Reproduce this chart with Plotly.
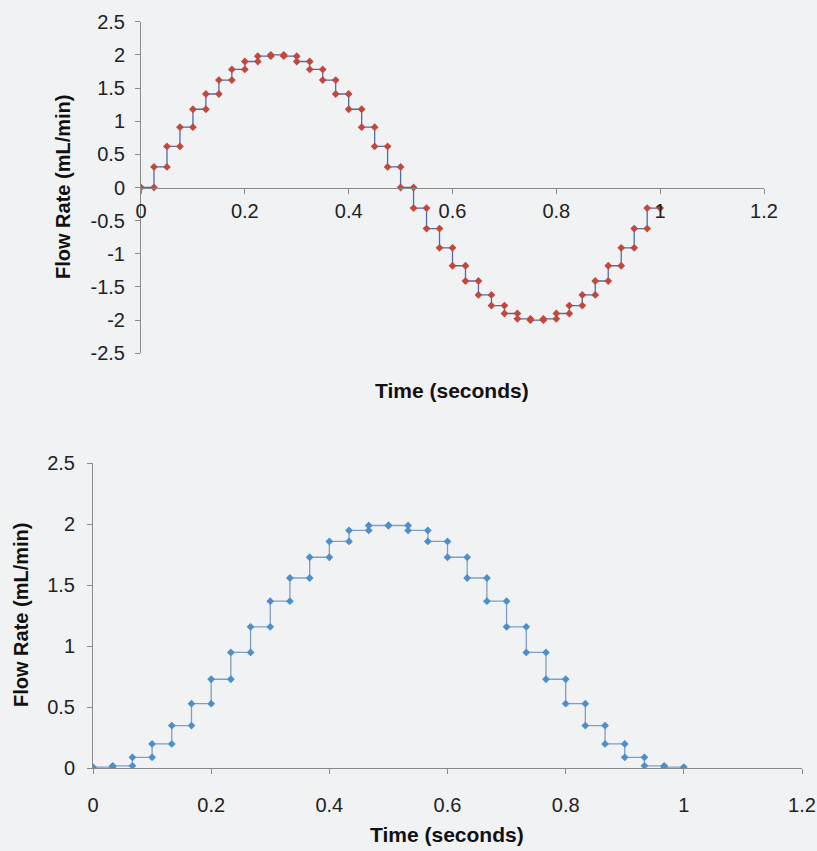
import plotly.graph_objects as go

# ---------------- data ----------------
# Top chart: step edges (s) and step values (mL/min)
top_edges = [0.0, 0.025, 0.05, 0.075, 0.1, 0.125, 0.15, 0.175, 0.2, 0.225,
             0.25, 0.275, 0.3, 0.325, 0.35, 0.375, 0.4, 0.425, 0.45, 0.475,
             0.5, 0.525, 0.55, 0.575, 0.6, 0.625, 0.65, 0.675, 0.7, 0.725,
             0.75, 0.775, 0.8, 0.825, 0.85, 0.875, 0.9, 0.925, 0.95, 0.975, 1.0]
top_values = [0.0, 0.31, 0.62, 0.91, 1.18, 1.41, 1.62, 1.78, 1.90, 1.98,
              2.00, 1.98, 1.90, 1.78, 1.62, 1.41, 1.18, 0.91, 0.62, 0.31,
              0.0, -0.31, -0.62, -0.91, -1.18, -1.41, -1.62, -1.78, -1.90, -1.98,
              -2.00, -1.98, -1.90, -1.78, -1.62, -1.41, -1.18, -0.91, -0.62, -0.31]

# Bottom chart
bot_edges = [0.0, 0.0333, 0.0667, 0.1, 0.1333, 0.1667, 0.2, 0.2333, 0.2667, 0.3,
             0.3333, 0.3667, 0.4, 0.4333, 0.4667, 0.5, 0.5333, 0.5667, 0.6, 0.6333,
             0.6667, 0.7, 0.7333, 0.7667, 0.8, 0.8333, 0.8667, 0.9, 0.9333, 0.9667, 1.0]
bot_values = [0.01, 0.02, 0.09, 0.20, 0.35, 0.53, 0.73, 0.95, 1.16, 1.37,
              1.56, 1.73, 1.86, 1.95, 1.99, 1.99, 1.95, 1.86, 1.73, 1.56,
              1.37, 1.16, 0.95, 0.73, 0.53, 0.35, 0.20, 0.09, 0.02, 0.01]

x_ticks = [0, 0.2, 0.4, 0.6, 0.8, 1.0, 1.2]
x_ticktext = ["0", "0.2", "0.4", "0.6", "0.8", "1", "1.2"]
top_y_ticks = [-2.5, -2, -1.5, -1, -0.5, 0, 0.5, 1, 1.5, 2, 2.5]
top_y_ticktext = ["-2.5", "-2", "-1.5", "-1", "-0.5", "0", "0.5", "1", "1.5", "2", "2.5"]
bot_y_ticks = [0, 0.5, 1, 1.5, 2, 2.5]
bot_y_ticktext = ["0", "0.5", "1", "1.5", "2", "2.5"]

x_title = "Time (seconds)"
y_title = "Flow Rate (mL/min)"


def steps(edges, values):
    xs, ys = [], []
    for k, v in enumerate(values):
        xs += [edges[k], edges[k + 1]]
        ys += [v, v]
    return xs, ys


tx, ty = steps(top_edges, top_values)
bx, by = steps(bot_edges, bot_values)

FONT = "Liberation Sans, Arial, sans-serif"
AX = "#8a8a8a"
BG = "#f1f2f4"
TICK_SIZE = 20

fig = go.Figure()
fig.add_trace(go.Scatter(
    x=tx, y=ty, mode="lines+markers", xaxis="x", yaxis="y",
    line=dict(color="#4f6aa8", width=1.3),
    marker=dict(symbol="diamond", size=6, color="#c4473c"),
    showlegend=False))
fig.add_trace(go.Scatter(
    x=bx, y=by, mode="lines+markers", xaxis="x2", yaxis="y2",
    line=dict(color="#7f9fc2", width=1.3),
    marker=dict(symbol="diamond", size=6, color="#4d8fcc"),
    showlegend=False))

W, H = 817, 851
# pixel geometry
t_left, t_right, t_top, t_bot = 141, 764, 21.7, 353.3
b_left, b_right, b_top, b_bot = 93, 802, 463.3, 768.3

top_ydom = [1 - t_bot / H, 1 - t_top / H]
bot_ydom = [1 - b_bot / H, 1 - b_top / H]


def xax(**kw):
    d = dict(range=[0, 1.2], tickvals=x_ticks, ticktext=x_ticktext,
             showline=True, linecolor=AX, linewidth=1, ticks="outside",
             ticklen=5, tickcolor=AX, showgrid=False, zeroline=False,
             automargin=False,
             tickfont=dict(family=FONT, size=TICK_SIZE, color="#222"))
    d.update(kw)
    return d


def yax(**kw):
    d = dict(showline=True, linecolor=AX, linewidth=1, ticks="outside",
             ticklen=5, tickcolor=AX, showgrid=False, zeroline=False,
             automargin=False,
             tickfont=dict(family=FONT, size=TICK_SIZE, color="#222"))
    d.update(kw)
    return d


fig.update_layout(
    width=W, height=H,
    margin=dict(l=0, r=0, t=0, b=0, autoexpand=False),
    paper_bgcolor=BG, plot_bgcolor=BG,
    xaxis=xax(domain=[t_left / W, t_right / W], anchor="free",
              position=(top_ydom[0] + top_ydom[1]) / 2, ticklabelstandoff=0),
    yaxis=yax(domain=top_ydom, anchor="x", range=[-2.5, 2.5],
              tickvals=top_y_ticks, ticktext=top_y_ticktext, ticklabelstandoff=6),
    xaxis2=xax(domain=[b_left / W, b_right / W], anchor="y2", ticklabelstandoff=14),
    yaxis2=yax(domain=bot_ydom, anchor="x2", range=[0, 2.5],
               tickvals=bot_y_ticks, ticktext=bot_y_ticktext, ticklabelstandoff=8),
)

x_title_font = dict(family=FONT, size=21, color="#111")
y_title_font = dict(family=FONT, size=20, color="#111")
annos = [
    dict(text="<b>%s</b>" % x_title, x=452 / W, y=1 - 390 / H, font=x_title_font),
    dict(text="<b>%s</b>" % x_title, x=447 / W, y=1 - 834 / H, font=x_title_font),
    dict(text="<b>%s</b>" % y_title, x=63 / W, y=1 - 187 / H, textangle=-90,
         font=y_title_font),
    dict(text="<b>%s</b>" % y_title, x=21 / W, y=1 - 615 / H, textangle=-90,
         font=y_title_font),
]
for a in annos:
    fig.add_annotation(xref="paper", yref="paper", showarrow=False,
                       xanchor="center", yanchor="middle", **a)

fig.write_html("out.html")
